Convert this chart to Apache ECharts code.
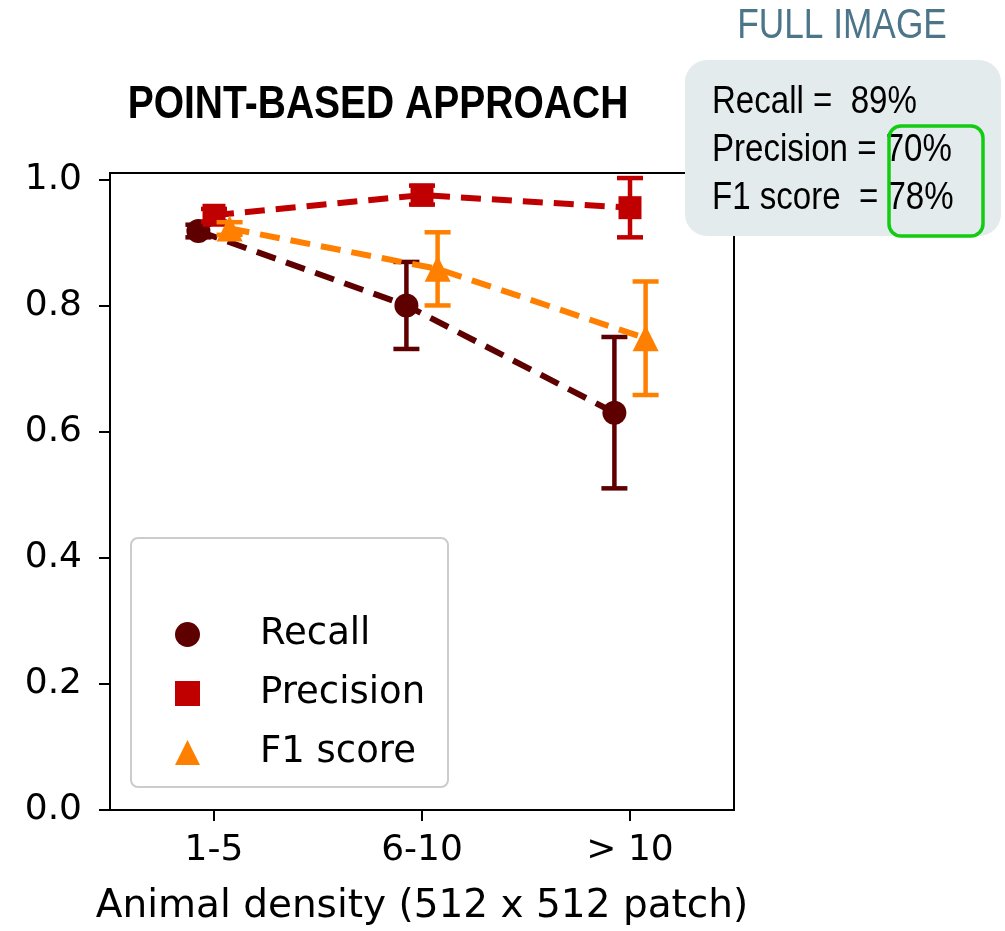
<!DOCTYPE html>
<html>
<head>
<meta charset="utf-8">
<script src="https://cdn.jsdelivr.net/npm/echarts@6/dist/echarts.min.js"></script>
<style>
  html, body { margin: 0; padding: 0; background: #fff; }
  #chart { width: 1005px; height: 931px; }
</style>
</head>
<body>
<div id="chart"></div>
<script>
// ---- data ----
const categories = ['1-5', '6-10', '> 10'];
const yTicks = [0, 0.2, 0.4, 0.6, 0.8, 1.0];
const seriesNames = ['Recall', 'Precision', 'F1 score'];
const recall = [0.918, 0.800, 0.630];
const recallErr = [0.010, 0.069, 0.120];
const precision = [0.943, 0.975, 0.955];
const precisionErr = [0.010, 0.015, 0.047];
const f1 = [0.922, 0.858, 0.748];
const f1Err = [0.010, 0.058, 0.090];
const chartTitle = 'POINT-BASED APPROACH';
const fullImageTitle = 'FULL IMAGE';
const fullImageLines = ['Recall =  89%', 'Precision = 70%', 'F1 score  = 78%'];

// ---- styling ----
const colors = ['#5e0000', '#c00000', '#ff8000'];
const symbols = ['circle', 'rect', 'triangle'];
const symbolSizes = [24, 23, 26];
const dodge = [-0.075, 0, 0.075];
const values = [recall, precision, f1];
const errors = [recallErr, precisionErr, f1Err];
const tickFont = 'DejaVu Sans';
const sans = '"Liberation Sans", Arial';

const chart = echarts.init(document.getElementById('chart'), null, { renderer: 'canvas' });

const series = [];
seriesNames.forEach((name, s) => {
  const pts = values[s].map((v, i) => [i + dodge[s], v]);
  series.push({
    name: name + ' line',
    type: 'line',
    data: pts,
    symbol: 'none',
    silent: true,
    z: 2 + s,
    lineStyle: { color: colors[s], width: 6, type: [20, 11], cap: 'butt' },
    animation: false
  });
  series.push({
    name: name + ' err',
    type: 'custom',
    z: 2 + s,
    silent: true,
    animation: false,
    data: values[s].map((v, i) => [i + dodge[s], v - errors[s][i], v + errors[s][i]]),
    encode: { x: 0, y: [1, 2] },
    renderItem: function (params, api) {
      const x = api.value(0);
      const lo = api.coord([x, api.value(1)]);
      const hi = api.coord([x, api.value(2)]);
      const hw = 13;
      const st = { stroke: colors[s], lineWidth: 4.5 };
      return {
        type: 'group',
        children: [
          { type: 'line', shape: { x1: lo[0], y1: lo[1], x2: hi[0], y2: hi[1] }, style: st },
          { type: 'line', shape: { x1: lo[0] - hw, y1: lo[1], x2: lo[0] + hw, y2: lo[1] }, style: st },
          { type: 'line', shape: { x1: hi[0] - hw, y1: hi[1], x2: hi[0] + hw, y2: hi[1] }, style: st }
        ]
      };
    }
  });
  series.push({
    name: name,
    type: 'scatter',
    data: pts,
    symbol: symbols[s],
    symbolSize: symbolSizes[s],
    z: 2 + s,
    itemStyle: { color: colors[s], opacity: 1 },
    animation: false
  });
});

const option = {
  backgroundColor: '#ffffff',
  animation: false,
  grid: {
    left: 110, right: 271, top: 173, bottom: 120,
    show: true, borderColor: '#000', borderWidth: 2, backgroundColor: 'transparent'
  },
  xAxis: {
    type: 'value',
    min: -0.5, max: 2.5,
    splitLine: { show: false },
    axisLine: { show: true, onZero: false, lineStyle: { color: '#000', width: 2 } },
    axisTick: { show: true, inside: false, length: 11, lineStyle: { color: '#000', width: 2 }, customValues: [0, 1, 2] },
    axisLabel: {
      customValues: [0, 1, 2],
      margin: 23,
      formatter: v => categories[Math.round(v)] || '',
      fontFamily: tickFont, fontSize: 36, color: '#000'
    },
    name: 'Animal density (512 x 512 patch)',
    nameLocation: 'middle',
    nameGap: 77,
    nameTextStyle: { fontFamily: tickFont, fontSize: 39, color: '#000' }
  },
  yAxis: {
    type: 'value',
    min: 0, max: 1.01,
    splitLine: { show: false },
    axisLine: { show: true, onZero: false, lineStyle: { color: '#000', width: 2 } },
    axisTick: { show: true, inside: false, length: 11, lineStyle: { color: '#000', width: 2 }, customValues: yTicks },
    axisLabel: {
      customValues: yTicks,
      margin: 28,
      formatter: v => Number(v).toFixed(1),
      fontFamily: tickFont, fontSize: 36, color: '#000'
    }
  },
  legend: {
    data: seriesNames.map((n, s) => ({ name: n, icon: symbols[s] })),
    orient: 'vertical',
    left: 175,
    top: 616,
    padding: 0,
    itemWidth: 25,
    itemHeight: 25,
    itemGap: 22,
    z: 20,
    selectedMode: false,
    textStyle: { fontFamily: tickFont, fontSize: 37, color: '#000', padding: [0, 0, 0, 55] }
  },
  graphic: [
    {
      type: 'text', z: 30, x: 378, y: 105, scaleX: 0.83,
      style: {
        text: chartTitle, x: 0, y: 0, align: 'center', verticalAlign: 'middle',
        font: 'bold 47px ' + sans, fill: '#000'
      }
    },
    {
      type: 'rect', z: 15,
      shape: { x: 131, y: 538, width: 317, height: 249, r: 7 },
      style: { fill: '#ffffff', stroke: '#cccccc', lineWidth: 2 }
    },
    {
      type: 'text', z: 30, x: 842, y: 26, scaleX: 0.82,
      style: {
        text: fullImageTitle, x: 0, y: 0, align: 'center', verticalAlign: 'middle',
        font: '43px ' + sans, fill: '#4d7589'
      }
    },
    {
      type: 'rect', z: 30,
      shape: { x: 685, y: 60, width: 316, height: 176, r: 22 },
      style: { fill: '#e4ebed', stroke: null }
    },
    ...fullImageLines.map((t, i) => ({
      type: 'text', z: 31, x: 712, y: 103 + i * 48, scaleX: 0.87,
      style: {
        text: t, x: 0, y: 0, align: 'left', verticalAlign: 'middle',
        font: '38px ' + sans, fill: '#000'
      }
    })),
    {
      type: 'rect', z: 32,
      shape: { x: 889, y: 126, width: 94, height: 110, r: 12 },
      style: { fill: null, stroke: '#11cc11', lineWidth: 3.5 }
    }
  ],
  series: series
};
chart.setOption(option);
</script>
</body>
</html>
